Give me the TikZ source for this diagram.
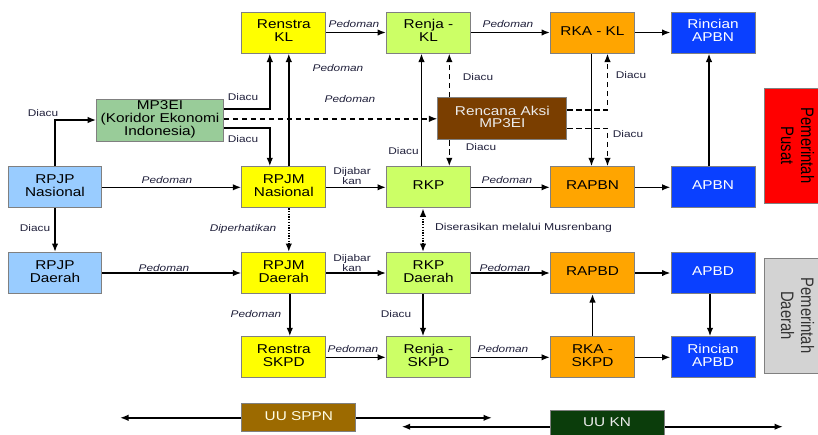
\documentclass[tikz,border=0pt]{standalone}
\usepackage{graphicx}
\usepackage{fontspec}
\setmainfont{Liberation Sans}
\usetikzlibrary{arrows.meta}
\newcommand\sx[2][1.2]{\scalebox{#1}[1]{\begin{tabular}{@{}c@{}}#2\end{tabular}}}
\definecolor{cY}{HTML}{FFFF00}
\definecolor{cG}{HTML}{CCFF66}
\definecolor{cO}{HTML}{FFA500}
\definecolor{cB}{HTML}{0A40FF}
\definecolor{cLB}{HTML}{99CCFF}
\definecolor{cM}{HTML}{99CC99}
\definecolor{cBr}{HTML}{7A3E00}
\definecolor{cSPPN}{HTML}{9C6A00}
\definecolor{cKN}{HTML}{0B3D0B}
\definecolor{cRed}{HTML}{FF0000}
\definecolor{cGray}{HTML}{D3D3D3}
\definecolor{lblc}{HTML}{1F1F3A}
\tikzset{
  box/.style={draw=black!50, line width=1pt, minimum width=84pt, minimum height=41pt,
    inner sep=0pt, align=center, font=\fontsize{12.8}{12.5}\selectfont},
  ybox/.style={box, fill=cY},
  gbox/.style={box, fill=cG},
  obox/.style={box, fill=cO},
  bbox/.style={box, fill=cB, text=white},
  lbbox/.style={box, fill=cLB, minimum width=93.4pt},
  mbox/.style={box, fill=cM, minimum width=126.6pt, minimum height=42pt},
  brbox/.style={box, fill=cBr, text=white!92!black, minimum width=128.7pt, minimum height=42.3pt},
  uubox/.style={box, minimum width=114pt, minimum height=27.7pt},
  pbox/.style={draw=black!50, line width=1pt, minimum width=115pt, minimum height=62pt,
    inner sep=0pt, rotate=-90, font=\fontsize{14.8}{16.4}\selectfont},
  tip/.tip={Latex[length=8.5pt,width=6.5pt]},
  arr/.style={line width=1.6pt, -tip},
  darr/.style={arr, dash pattern=on 5.5pt off 3.5pt},
  dotarr/.style={arr, dash pattern=on 1.3pt off 1.4pt},
  lbl/.style={font=\fontsize{9.7}{9.8}\selectfont, text=lblc, inner sep=0pt},
  itl/.style={lbl, font=\fontsize{9.7}{9.8}\selectfont\itshape},
}
\begin{document}
\begin{tikzpicture}[x=1pt,y=-1pt]
\useasboundingbox (0,0) rectangle (818,434);
\clip (0,0) rectangle (818,434);
% row 1
\node[ybox] (renstrakl) at (283.8,32.5) {\sx{Renstra\\KL}};
\node[gbox] (renjakl) at (428.5,32.5) {\sx{Renja -\\KL}};
\node[obox] (rkakl) at (592.5,32.5) {\sx{RKA - KL}};
\node[bbox] (rincianapbn) at (713,32.5) {\sx{Rincian\\APBN}};
% middle
\node[mbox] (mp3ei) at (160,120) {\sx{MP3EI\\(Koridor Ekonomi\\Indonesia)}};
\node[brbox] (rencana) at (502.3,118.8) {\sx{Rencana Aksi\\MP3EI}};
% row nasional
\node[lbbox] (rpjpn) at (55,187.3) {\sx{RPJP\\Nasional}};
\node[ybox] (rpjmn) at (283.8,187.3) {\sx{RPJM\\Nasional}};
\node[gbox] (rkp) at (428.5,187.3) {\sx{RKP}};
\node[obox] (rapbn) at (592.5,187.3) {\sx{RAPBN}};
\node[bbox] (apbn) at (713,187.3) {\sx{APBN}};
% row daerah
\node[lbbox] (rpjpd) at (55,273) {\sx{RPJP\\Daerah}};
\node[ybox] (rpjmd) at (283.8,273) {\sx{RPJM\\Daerah}};
\node[gbox] (rkpd) at (428.5,273) {\sx{RKP\\Daerah}};
\node[obox] (rapbd) at (592.5,273) {\sx{RAPBD}};
\node[bbox] (apbd) at (713,273) {\sx{APBD}};
% row skpd
\node[ybox] (renstraskpd) at (283.8,357.3) {\sx{Renstra\\SKPD}};
\node[gbox] (renjaskpd) at (428.5,357.3) {\sx{Renja -\\SKPD}};
\node[obox] (rkaskpd) at (592.5,357.3) {\sx{RKA -\\SKPD}};
\node[bbox] (rincianapbd) at (713,357.3) {\sx{Rincian\\APBD}};
% side boxes
\node[pbox, fill=cRed, text=black] (pusat) at (795,145.5)
  {\scalebox{1}[1.22]{\begin{tabular}{@{}c@{}}Pemerintah\\Pusat\end{tabular}}};
\node[pbox, fill=cGray, text=black!80] (daerah) at (795,315.5)
  {\scalebox{1}[1.22]{\begin{tabular}{@{}c@{}}Pemerintah\\Daerah\end{tabular}}};
% laws
\node[uubox, fill=cSPPN, text=white!90!yellow, minimum width=113.7pt] (uusppn) at (298.8,417.8) {\sx{UU SPPN}};
\node[uubox, fill=cKN, text=white!92!black, minimum height=28pt] (uukn) at (607,424) {\sx{UU KN}};
\coordinate (sppnL) at (120,417.8);
\coordinate (sppnR) at (492,417.8);
\coordinate (knL) at (401.7,426.7);
\coordinate (knR) at (783,426.7);

% connectors row 1
\draw[arr] (renstrakl) -- (renjakl);
\draw[arr] (renjakl) -- (rkakl);
\draw[arr] (rkakl) -- (rincianapbn);
\draw[arr] ([xshift=-4]apbn.north) -- ([xshift=-4]rincianapbn.south);
\draw[arr] ([xshift=-1]rkakl.south) -- ([xshift=-1]rapbn.north);
% rencana aksi
\draw[darr] ([yshift=9]rencana.east) -| ([xshift=15]rkakl.south);
\draw[darr] ([yshift=-9.5]rencana.east) -| ([xshift=15]rapbn.north);
\draw[darr] ([xshift=-53]rencana.north) -- ([xshift=-53]rencana.north |- renjakl.south);
\draw[darr] ([xshift=-53]rencana.south) -- ([xshift=-53]rencana.south |- rkp.north);
\draw[arr] ([xshift=-7]rkp.north) -- ([xshift=-7]renjakl.south);
% mp3ei
\draw[arr] ([xshift=5]rpjmn.north) -- ([xshift=5]renstrakl.south);
\draw[arr] ([yshift=11]mp3ei.east) -| ([xshift=-14]renstrakl.south);
\draw[arr] ([yshift=-8]mp3ei.east) -| ([xshift=-14]rpjmn.north);
\draw[darr] (mp3ei.east |- rencana.west) -- (rencana.west);
\draw[arr] (rpjpn.north) |- (mp3ei.west);
% nasional row
\draw[arr] (rpjpn) -- (rpjmn);
\draw[arr] (rpjmn) -- (rkp);
\draw[arr] (rkp) -- (rapbn);
\draw[arr] (rapbn) -- (apbn);
% nasional to daerah
\draw[arr] (rpjpn) -- (rpjpd);
\draw[dotarr] ([xshift=5]rpjmn.south) -- ([xshift=5]rpjmd.north);
\draw[dotarr, tip-tip] ([xshift=-5.5]rkp.south) -- ([xshift=-5.5]rkpd.north);
% daerah row
\draw[arr] (rpjpd) -- (rpjmd);
\draw[arr] (rpjmd) -- (rkpd);
\draw[arr] (rkpd) -- (rapbd);
\draw[arr] (rapbd) -- (apbd);
% skpd
\draw[arr] ([xshift=6]rpjmd.south) -- ([xshift=6]renstraskpd.north);
\draw[arr] ([xshift=-5.5]rkpd.south) -- ([xshift=-5.5]renjaskpd.north);
\draw[arr] (renstraskpd) -- (renjaskpd);
\draw[arr] (renjaskpd) -- (rkaskpd);
\draw[arr] (rkaskpd) -- (rapbd);
\draw[arr] (rkaskpd) -- (rincianapbd);
\draw[arr] ([xshift=-3]apbd.south) -- ([xshift=-3]rincianapbd.north);
% laws
\draw[arr] (uusppn.west) -- (sppnL);
\draw[arr] (uusppn.east) -- (sppnR);
\draw[arr] ([yshift=-2.7]uukn.west) -- (knL);
\draw[arr] ([yshift=-2.7]uukn.east) -- (knR);

% labels
\node[itl] at (354,25.5) {\sx[1.22]{Pedoman}};
\node[itl] at (508,25.5) {\sx[1.22]{Pedoman}};
\node[itl] at (338,69) {\sx[1.22]{Pedoman}};
\node[itl] at (350,100) {\sx[1.22]{Pedoman}};
\node[lbl] at (243,98) {\sx[1.22]{Diacu}};
\node[lbl] at (243,140) {\sx[1.22]{Diacu}};
\node[lbl] at (43,114) {\sx[1.22]{Diacu}};
\node[itl] at (167,181) {\sx[1.22]{Pedoman}};
\node[lbl] at (352,177) {\sx[1.22]{Dijabar\\kan}};
\node[lbl] at (403.5,152.7) {\sx[1.22]{Diacu}};
\node[lbl] at (478,78) {\sx[1.22]{Diacu}};
\node[lbl] at (481,148) {\sx[1.22]{Diacu}};
\node[itl] at (507,181) {\sx[1.22]{Pedoman}};
\node[lbl] at (631,76) {\sx[1.22]{Diacu}};
\node[lbl] at (628,135) {\sx[1.22]{Diacu}};
\node[lbl] at (35,229.3) {\sx[1.22]{Diacu}};
\node[itl] at (243,229.3) {\sx[1.22]{Diperhatikan}};
\node[lbl, font=\fontsize{10}{10}\selectfont] at (523.5,228.7) {\sx[1.22]{Diserasikan melalui Musrenbang}};
\node[itl] at (164,269.3) {\sx[1.22]{Pedoman}};
\node[lbl] at (352,264) {\sx[1.22]{Dijabar\\kan}};
\node[itl] at (505,269.3) {\sx[1.22]{Pedoman}};
\node[itl] at (256,315.7) {\sx[1.22]{Pedoman}};
\node[lbl] at (396,315.7) {\sx[1.22]{Diacu}};
\node[itl] at (353,350.7) {\sx[1.22]{Pedoman}};
\node[itl] at (503,350.7) {\sx[1.22]{Pedoman}};
\end{tikzpicture}
\end{document}
